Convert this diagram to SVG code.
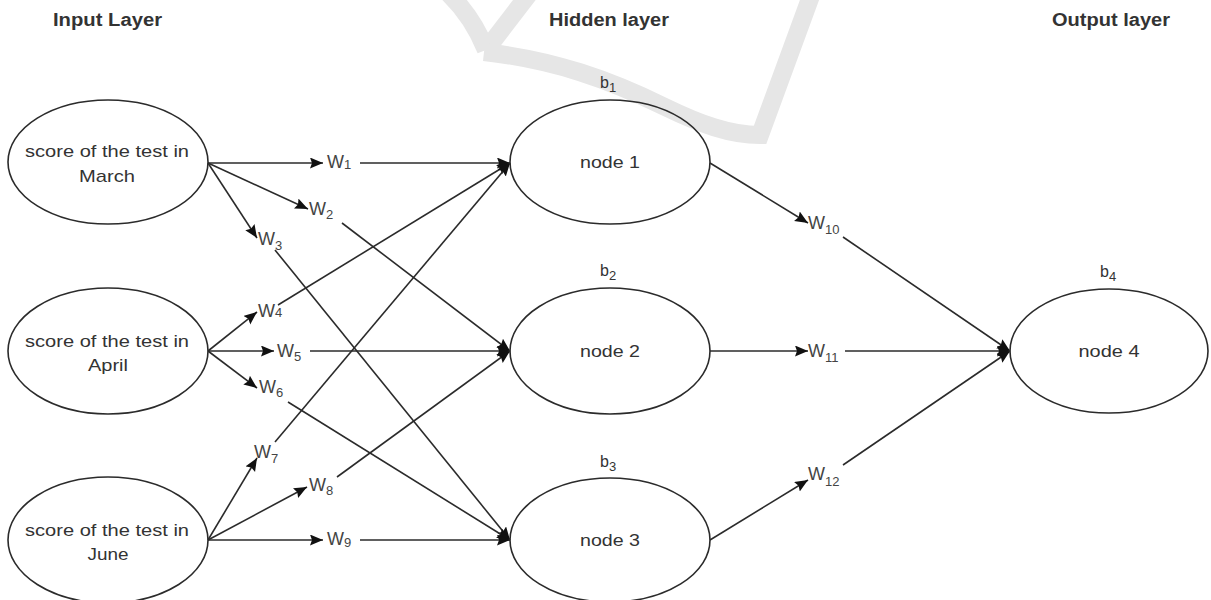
<svg xmlns="http://www.w3.org/2000/svg" width="1211" height="600" viewBox="0 0 1211 600">
<style>
  .bg { fill: #ffffff; }
  .wm { fill: none; stroke: #e6e6e6; stroke-width: 18; stroke-linejoin: miter; }
  .node { fill: none; stroke: #2b2b2b; stroke-width: 1.6; }
  .lbl { font-family: "Liberation Sans", Arial, sans-serif; font-size: 17px; fill: #333333; }
  .hdr { font-family: "Liberation Sans", Arial, sans-serif; font-size: 18px; font-weight: bold; fill: #333333; }
  .w { font-family: "Liberation Sans", Arial, sans-serif; font-size: 18px; fill: #444444; }
  .sub { font-size: 13px; }
  .bias { font-family: "Liberation Sans", Arial, sans-serif; font-size: 16px; fill: #333333; }
  .edge { fill: none; stroke: #2b2b2b; stroke-width: 1.6; marker-end: url(#arrow); }
</style>
<defs>
  <marker id="arrow" markerUnits="userSpaceOnUse" markerWidth="15" markerHeight="12" refX="13" refY="5.5" orient="auto">
    <path d="M0,0 L13,5.5 L0,11 L2,5.5 z" fill="#111111"/>
  </marker>
</defs>
<rect class="bg" x="0" y="0" width="1211" height="600"/>

<g id="watermark">
  <path class="wm" d="M 445 -10 Q 472 15 486 50"/>
  <path class="wm" d="M 532 -10 L 486 50"/>
  <path class="wm" d="M 484 52 C 555 60 610 80 665 107 C 700 124 730 135 760 135 L 815 -15"/>
</g>

<g id="headers">
  <text class="hdr" x="53" y="26" textLength="109" lengthAdjust="spacingAndGlyphs">Input Layer</text>
  <text class="hdr" x="549" y="26" textLength="120" lengthAdjust="spacingAndGlyphs">Hidden layer</text>
  <text class="hdr" x="1052" y="26" textLength="118" lengthAdjust="spacingAndGlyphs">Output layer</text>
</g>

<g id="connectors">
  <line class="edge" x1="208" y1="163" x2="323" y2="163"/>
  <line class="edge" x1="208" y1="163" x2="308" y2="209"/>
  <line class="edge" x1="208" y1="163" x2="257" y2="238"/>
  <line class="edge" x1="208" y1="351" x2="257" y2="312"/>
  <line class="edge" x1="208" y1="351" x2="274" y2="351"/>
  <line class="edge" x1="208" y1="351" x2="257" y2="388"/>
  <line class="edge" x1="208" y1="540" x2="257" y2="458"/>
  <line class="edge" x1="208" y1="540" x2="307" y2="487"/>
  <line class="edge" x1="208" y1="540" x2="323" y2="540"/>
  <line class="edge" x1="710" y1="163" x2="808" y2="223"/>
  <line class="edge" x1="710" y1="351" x2="808" y2="351"/>
  <line class="edge" x1="710" y1="540" x2="808" y2="480"/>

  <line class="edge" x1="360" y1="163" x2="510" y2="163"/>
  <line class="edge" x1="342" y1="223" x2="510" y2="351"/>
  <line class="edge" x1="275" y1="250" x2="510" y2="540"/>
  <line class="edge" x1="278" y1="305" x2="510" y2="163"/>
  <line class="edge" x1="310" y1="351" x2="510" y2="351"/>
  <line class="edge" x1="288" y1="402" x2="510" y2="540"/>
  <line class="edge" x1="275" y1="442" x2="510" y2="163"/>
  <line class="edge" x1="337" y1="477" x2="510" y2="351"/>
  <line class="edge" x1="360" y1="540" x2="510" y2="540"/>
  <line class="edge" x1="843" y1="237" x2="1010" y2="351"/>
  <line class="edge" x1="845" y1="351" x2="1010" y2="351"/>
  <line class="edge" x1="843" y1="465" x2="1010" y2="351"/>
</g>

<g id="weights">
  <text class="w" x="327" y="168">W<tspan class="sub" dy="1">1</tspan></text>
  <text class="w" x="309" y="215">W<tspan class="sub" dy="4">2</tspan></text>
  <text class="w" x="258" y="245">W<tspan class="sub" dy="5">3</tspan></text>
  <text class="w" x="258" y="317">W<tspan class="sub" dy="0">4</tspan></text>
  <text class="w" x="277" y="357">W<tspan class="sub" dy="4">5</tspan></text>
  <text class="w" x="259" y="393">W<tspan class="sub" dy="4">6</tspan></text>
  <text class="w" x="254" y="458">W<tspan class="sub" dy="5">7</tspan></text>
  <text class="w" x="309" y="491">W<tspan class="sub" dy="4">8</tspan></text>
  <text class="w" x="327" y="545">W<tspan class="sub" dy="2">9</tspan></text>
  <text class="w" x="808" y="229">W<tspan class="sub" dy="5">10</tspan></text>
  <text class="w" x="808" y="357">W<tspan class="sub" dy="5">11</tspan></text>
  <text class="w" x="808" y="480">W<tspan class="sub" dy="6">12</tspan></text>
</g>

<g id="input-march">
  <ellipse class="node" cx="108" cy="162" rx="100" ry="62"/>
  <text class="lbl" x="107" y="157" text-anchor="middle" textLength="164" lengthAdjust="spacingAndGlyphs">score of the test in</text>
  <text class="lbl" x="107" y="182" text-anchor="middle" textLength="56" lengthAdjust="spacingAndGlyphs">March</text>
</g>
<g id="input-april">
  <ellipse class="node" cx="108" cy="351" rx="100" ry="63"/>
  <text class="lbl" x="107" y="347" text-anchor="middle" textLength="164" lengthAdjust="spacingAndGlyphs">score of the test in</text>
  <text class="lbl" x="108" y="371" text-anchor="middle" textLength="40" lengthAdjust="spacingAndGlyphs">April</text>
</g>
<g id="input-june">
  <ellipse class="node" cx="108" cy="540" rx="100" ry="63"/>
  <text class="lbl" x="107" y="536" text-anchor="middle" textLength="164" lengthAdjust="spacingAndGlyphs">score of the test in</text>
  <text class="lbl" x="108" y="560" text-anchor="middle" textLength="41" lengthAdjust="spacingAndGlyphs">June</text>
</g>

<g id="node1">
  <ellipse class="node" cx="610" cy="162" rx="100" ry="62"/>
  <text class="lbl" x="610" y="168" text-anchor="middle" textLength="60" lengthAdjust="spacingAndGlyphs">node 1</text>
  <text class="bias" x="600" y="88">b<tspan class="sub" dy="4">1</tspan></text>
</g>
<g id="node2">
  <ellipse class="node" cx="610" cy="351" rx="100" ry="63"/>
  <text class="lbl" x="610" y="357" text-anchor="middle" textLength="60" lengthAdjust="spacingAndGlyphs">node 2</text>
  <text class="bias" x="600" y="276">b<tspan class="sub" dy="4">2</tspan></text>
</g>
<g id="node3">
  <ellipse class="node" cx="610" cy="540" rx="100" ry="62"/>
  <text class="lbl" x="610" y="546" text-anchor="middle" textLength="60" lengthAdjust="spacingAndGlyphs">node 3</text>
  <text class="bias" x="600" y="467">b<tspan class="sub" dy="4">3</tspan></text>
</g>
<g id="node4">
  <ellipse class="node" cx="1109" cy="351" rx="99" ry="62"/>
  <text class="lbl" x="1109" y="357" text-anchor="middle" textLength="61" lengthAdjust="spacingAndGlyphs">node 4</text>
  <text class="bias" x="1100" y="277">b<tspan class="sub" dy="4">4</tspan></text>
</g>
</svg>
